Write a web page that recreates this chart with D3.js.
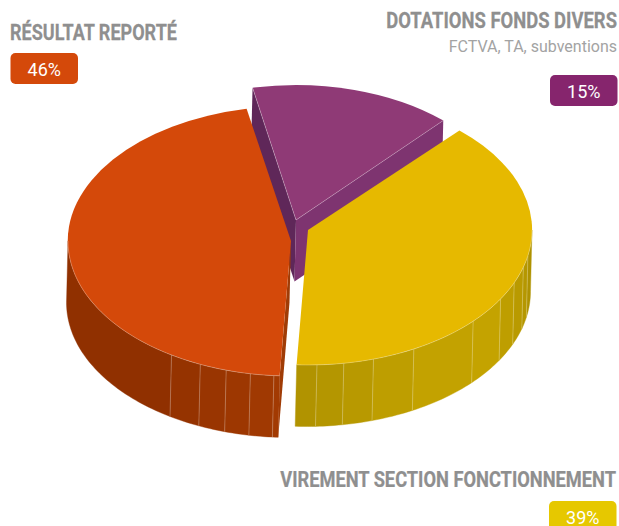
<!DOCTYPE html>
<html lang="fr">
  <head>
    <meta charset="UTF-8" />
    <title>Recettes d'investissement</title>
    <script src="https://d3js.org/d3.v7.min.js"></script>
    <style>
      html, body { margin: 0; padding: 0; background: #fff; overflow: hidden; }
      svg { display: block; font-family: Roboto, sans-serif; }
    </style>
  </head>
  <body>
    <svg width="619" height="526"></svg>

    <script>
      // Data
      const categories = ["DOTATIONS FONDS DIVERS", "VIREMENT SECTION FONCTIONNEMENT", "RÉSULTAT REPORTÉ"];
      const values = [15, 39, 46];
      const subtitles = ["FCTVA, TA, subventions", "", ""];

      // Pie look
      const topColors = ["#8f3a76", "#e6b900", "#d4490a"];
      const badgeColors = ["#86256d", "#e6c800", "#d4490a"];
      const sliceRx = [218, 224, 223];
      const ry = 135;
      const depth = [-1.5, 61.5];
      const firstAngle = -11.5;
      const sliceCenters = [[296, 220], [308, 230], [291, 241]];

      // Facet seams on the outer wall, in degrees clockwise from the top
      const yellowSeams = [177.7, 170.8, 163, 151.8, 132.5, 120.7, 113, 106, 101];
      const redSeams = [184.4, 190.5, 196.9, 204, 212.4];

      const yellowWall = d3.scaleLinear()
        .domain([182, 150, 125, 100, 90])
        .range(["#b09200", "#c2a100", "#c4a300", "#b39500", "#ab8e00"]);
      const redWall = d3.scaleLinear()
        .domain([183, 215, 270])
        .range(["#a23a02", "#923100", "#8e2f00"]);

      const svg = d3.select("svg");
      const rad = Math.PI / 180;

      const slices = d3.pie().sort(null)
        .startAngle(firstAngle * rad)
        .endAngle((firstAngle + 360) * rad)(values);

      const unitArc = d3.arc().innerRadius(0).outerRadius(1);
      const line = d3.line();

      // point on the rim of slice i, angle in radians
      function rim(i, a, down) {
        const c = sliceCenters[i];
        return [
          c[0] + sliceRx[i] * Math.sin(a) + (down ? depth[0] : 0),
          c[1] - ry * Math.cos(a) + (down ? depth[1] : 0),
        ];
      }

      function apex(i, down) {
        const c = sliceCenters[i];
        return [c[0] + (down ? depth[0] : 0), c[1] + (down ? depth[1] : 0)];
      }

      // flat wall along one cut of the slice
      function cutWall(i, a, fill) {
        svg.append("path")
          .attr("d", line([apex(i), rim(i, a), rim(i, a, true), apex(i, true)]) + "Z")
          .attr("fill", fill);
      }

      // outer wall between two angles (radians)
      function outerWall(i, a0, a1, fill) {
        const n = Math.max(2, Math.ceil(Math.abs(a1 - a0) / 0.02));
        const angles = d3.range(n + 1).map((k) => a0 + ((a1 - a0) * k) / n);
        const top = angles.map((a) => rim(i, a));
        const bottom = angles.map((a) => rim(i, a, true)).reverse();
        svg.append("path")
          .attr("d", line(top.concat(bottom)) + "Z")
          .attr("fill", fill)
          .attr("stroke", fill)
          .attr("stroke-width", 0.4);
      }

      function seam(i, deg) {
        const a = deg * rad;
        svg.append("path")
          .attr("d", line([rim(i, a), rim(i, a, true)]))
          .attr("stroke", "#fff")
          .attr("stroke-opacity", 0.28)
          .attr("stroke-width", 0.9);
      }

      function facetedWall(i, a0, a1, seams, colorScale) {
        const stops = [a0, ...seams, a1].sort(d3.ascending);
        d3.pairs(stops).forEach(([s, e]) => {
          outerWall(i, s * rad, e * rad, colorScale((s + e) / 2));
        });
        seams.forEach((d) => seam(i, d));
      }

      function topFace(i) {
        const c = sliceCenters[i];
        svg.append("path")
          .attr("d", unitArc(slices[i]))
          .attr("transform", `translate(${c[0]},${c[1]}) scale(${sliceRx[i]},${ry})`)
          .attr("fill", topColors[i]);
      }

      // thin light line on an edge of the top face
      function rimLine(i, a0, a1, opacity) {
        const n = Math.ceil(Math.abs(a1 - a0) / 0.02);
        const pts = d3.range(n + 1).map((k) => rim(i, a0 + ((a1 - a0) * k) / n));
        svg.append("path")
          .attr("d", line(pts))
          .attr("fill", "none")
          .attr("stroke", "#fff")
          .attr("stroke-opacity", opacity)
          .attr("stroke-width", 0.8);
      }

      // Purple goes first, the two big slices sit in front of its walls
      cutWall(0, slices[0].startAngle, "#5f2759");
      cutWall(0, slices[0].endAngle, "#7e3470");
      topFace(0);
      [slices[0].startAngle, slices[0].endAngle].forEach((a) => {
        svg.append("path")
          .attr("d", line([apex(0), rim(0, a)]))
          .attr("stroke", "#fff")
          .attr("stroke-opacity", 0.3)
          .attr("stroke-width", 0.8);
      });

      // Yellow
      const yellowEnd = slices[1].endAngle / rad;
      facetedWall(1, 90, yellowEnd, yellowSeams, yellowWall);
      topFace(1);
      rimLine(1, 90 * rad, slices[1].endAngle, 0.35);

      // Red
      const redStart = slices[2].startAngle / rad;
      cutWall(2, slices[2].startAngle, "#a03c06");
      facetedWall(2, redStart, 270, redSeams, redWall);
      topFace(2);
      rimLine(2, slices[2].startAngle, 270 * rad, 0.35);

      // Labels
      const labelLayout = [
        { x: 617, y: 28, width: 231, anchor: "end", badgeX: 550, badgeY: 75 },
        { x: 616, y: 487, width: 336, anchor: "end", badgeX: 549, badgeY: 501 },
        { x: 10, y: 40, width: 167, anchor: "start", badgeX: 10.5, badgeY: 53 },
      ];

      categories.forEach((name, i) => {
        const l = labelLayout[i];
        // no condensed face installed, so the title is squeezed to the measured width
        const title = svg.append("text")
          .attr("text-anchor", l.anchor)
          .style("font-size", "22px")
          .style("font-weight", 700)
          .style("fill", "#8f8f8f")
          .style("stroke", "#8f8f8f")
          .style("stroke-width", 0.25)
          .text(name);
        const squeeze = l.width / title.node().getComputedTextLength();
        title.attr("transform", `translate(${l.x},${l.y}) scale(${squeeze},1)`);

        if (subtitles[i]) {
          svg.append("text")
            .attr("x", l.x)
            .attr("y", l.y + 24)
            .attr("text-anchor", l.anchor)
            .style("font-size", "16px")
            .style("fill", "#a3a3a3")
            .text(subtitles[i]);
        }

        svg.append("rect")
          .attr("x", l.badgeX)
          .attr("y", l.badgeY)
          .attr("width", 67.5)
          .attr("height", 31)
          .attr("rx", 5)
          .attr("fill", badgeColors[i]);

        svg.append("text")
          .attr("x", l.badgeX + 33.75)
          .attr("y", l.badgeY + 23)
          .attr("text-anchor", "middle")
          .style("font-size", "18px")
          .style("font-weight", 400)
          .style("fill", "#fff")
          .text(values[i] + "%");
      });
    </script>
  </body>
</html>
